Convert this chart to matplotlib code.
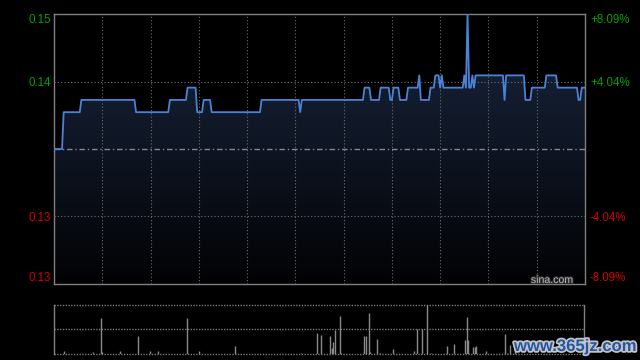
import matplotlib
matplotlib.use('Agg')
import matplotlib.pyplot as plt
import matplotlib.transforms as mtransforms
import matplotlib.patheffects as pe
from matplotlib.patches import Polygon
import numpy as np

plt.rcParams['font.family'] = ['Liberation Sans', 'DejaVu Sans']

# ---- data ----
prev_close = 0.136
minutes = [0, 5, 6, 16, 17, 50, 51, 71, 72, 82,
           83, 88, 89, 92, 93, 97, 98, 128, 129, 152,
           153, 154, 192, 193, 196, 197, 202, 203, 208, 209,
           210, 211, 214, 215, 219, 220, 226, 227, 228, 233,
           234, 236, 237, 239, 240, 241, 242, 254, 255, 256,
           257, 258, 259, 260, 261, 262, 279, 280, 281, 292,
           293, 296, 297, 305, 306, 312, 313, 325, 326, 327,
           328, 330]
prices = [0.136, 0.136, 0.139, 0.139, 0.140, 0.140, 0.139, 0.139, 0.140, 0.140,
          0.141, 0.141, 0.139, 0.139, 0.140, 0.140, 0.139, 0.139, 0.140, 0.140,
          0.139, 0.140, 0.140, 0.141, 0.141, 0.140, 0.140, 0.141, 0.141, 0.140,
          0.140, 0.141, 0.141, 0.140, 0.140, 0.141, 0.141, 0.142, 0.140, 0.140,
          0.141, 0.141, 0.142, 0.142, 0.141, 0.142, 0.141, 0.141, 0.142, 0.141,
          0.147, 0.141, 0.141, 0.142, 0.141, 0.142, 0.142, 0.140, 0.142, 0.142,
          0.140, 0.140, 0.141, 0.141, 0.142, 0.142, 0.141, 0.141, 0.140, 0.140,
          0.141, 0.141]

vol_minutes = [6, 24, 29, 30, 41, 52, 60, 65, 83, 90,
               113, 154, 164, 166, 172, 173, 174, 175, 178, 179,
               193, 194, 196, 197, 201, 203, 211, 224, 226, 229,
               232, 235, 245, 249, 256, 257, 258, 261, 262, 263,
               269, 281, 282, 284, 287]
volumes = [3.3, 2.3, 36.3, 2.3, 3.3, 18.3, 3.3, 3.3, 36.3, 3.3,
           8.3, 1.3, 21.3, 19.3, 18.3, 6.3, 12.3, 23.7, 38.3, 1.3,
           18.3, 18.3, 41.3, 2.3, 15.3, 1.3, 5.3, 3.3, 24.7, 25.3,
           49.7, 1.3, 8.3, 10.3, 14.3, 37.3, 14.3, 7.3, 7.3, 8.3,
           3.3, 20.3, 1.3, 9.3, 3.3]

pct_levels = [0.0809, 0.0404, -0.0404, -0.0809]
left_labels = ['0.15', '0.14', '0.13', '0.13']
right_labels = ['+8.09%', '+4.04%', '-4.04%', '-8.09%']
grid_minutes = list(range(30, 330, 30))

# ---- figure ----
W, H = 640, 360
fig = plt.figure(figsize=(6.4, 3.6), dpi=100, facecolor='black')
ax = fig.add_axes([54 / W, 76 / H, 531 / W, 270 / H])
ax.set_facecolor('black')
ylo = prev_close * (1 - 0.0809)
yhi = prev_close * (1 + 0.0809)
ax.set_xlim(0, 330)
ax.set_ylim(ylo, yhi)

# gradient fill under the line
top_c = np.array([26, 39, 64]) / 255.0
bot_c = np.array([2, 2, 4]) / 255.0
f = np.linspace(0, 1, 256).reshape(-1, 1, 1)
img = top_c * (1 - f) + bot_c * f
img = np.repeat(img, 2, axis=1)
im = ax.imshow(img, extent=[0, 330, ylo, yhi], aspect='auto', origin='upper',
               zorder=1, interpolation='bilinear')
verts = [(minutes[0], ylo)] + list(zip(minutes, prices)) + [(minutes[-1], ylo)]
poly = Polygon(verts, closed=True, facecolor='none', edgecolor='none')
ax.add_patch(poly)
im.set_clip_path(poly)

# grid
for m in grid_minutes:
    ax.axvline(m, color='#6e6e6e', lw=0.8, ls=(0, (1, 2)), zorder=3)
for pc in (0.0404, -0.0404):
    ax.axhline(prev_close * (1 + pc), color='#6e6e6e', lw=0.8, ls=(0, (1, 2)), zorder=3)
ax.axhline(prev_close, color='#7f8896', lw=1.0, ls=(0, (4, 2, 1, 2)), zorder=3)

ax.plot(minutes, prices, color='#4a82d6', lw=1.3, zorder=5)

for s in ax.spines.values():
    s.set_color('#808080')
    s.set_linewidth(1)
ax.set_xticks([])
ax.set_yticks([])

trans = mtransforms.blended_transform_factory(ax.transAxes, ax.transData)
vas = ['top', 'center_baseline', 'center_baseline', 'bottom']
for pc, ll, rl, va in zip(pct_levels, left_labels, right_labels, vas):
    col = '#00a000' if pc > 0 else '#d00000'
    y = prev_close * (1 + pc)
    ax.text(-0.0056, y, ll, transform=trans, ha='right', va=va, color=col, fontsize=8.3)
    ax.text(1.0094, y, rl, transform=trans, ha='left', va=va, color=col, fontsize=8.3)

fig.text(573 / W, (H - 283) / H, 'sina.com', ha='right', va='baseline',
         color='#b4b4b4', fontsize=7.6,
         path_effects=[pe.withStroke(linewidth=1.5, foreground='#303030')])

# ---- volume panel ----
vax = fig.add_axes([54 / W, 6 / H, 530 / W, 49.3 / H])
vax.set_facecolor('black')
vmax = max(volumes)
vax.set_xlim(0, 330)
vax.set_ylim(0, vmax)
vax.vlines(vol_minutes, 0, volumes, color='#8a8a8a', lw=1)
for yy in (0, vmax / 2, vmax):
    vax.axhline(yy, color='#7a7a7a', lw=1, ls=(0, (1, 1)), clip_on=False, zorder=0)
for k in ('top', 'bottom'):
    vax.spines[k].set_visible(False)
for k in ('left', 'right'):
    vax.spines[k].set_color('#808080')
    vax.spines[k].set_linewidth(1)
vax.set_xticks([])
vax.set_yticks([])

fig.text(575 / W, (H - 351) / H, 'www.365jz.com', ha='center', va='baseline',
         fontsize=12, fontweight='bold', color='#2456a8',
         path_effects=[pe.withStroke(linewidth=2.5, foreground='#c4c4c4')])

fig.savefig('out.png', dpi=100, facecolor='black')
